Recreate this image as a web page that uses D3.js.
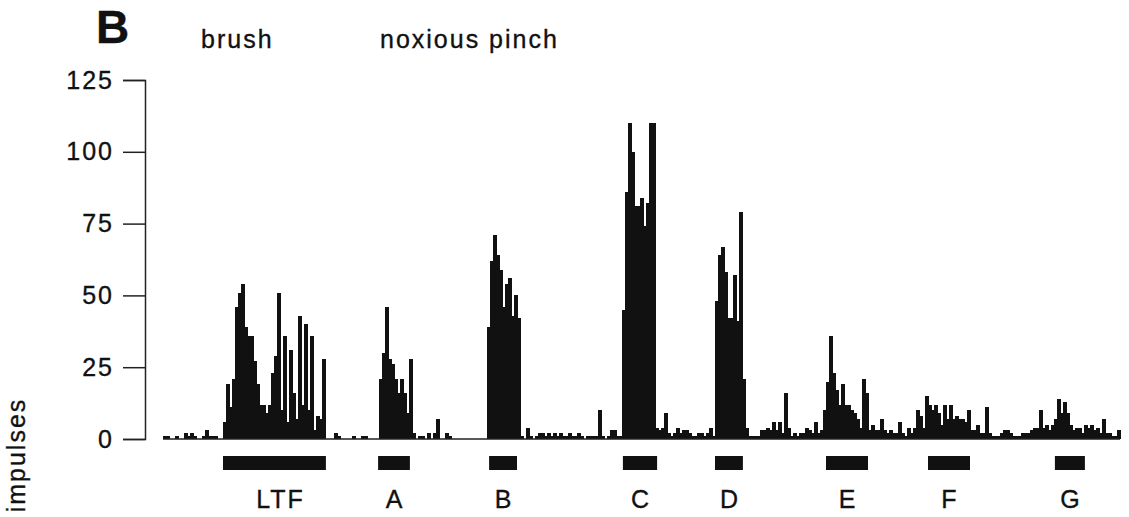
<!DOCTYPE html>
<html>
<head>
	<meta charset="utf-8">
	<title>Impulses histogram B</title>
	<script src="https://d3js.org/d3.v7.min.js"></script>
	<style>
		body { margin: 0; background: #fff; }
		text { font-family: "Liberation Sans", Arial, sans-serif; fill: #111; stroke: #111; stroke-width: 0.35px; }
	</style>
</head>
<body>
	<svg width="1129" height="517"></svg>
	<script>
		// impulses per bin (bin = 1 time unit)
		var counts = [
			1,1,0,0,1,0,0,2,1,2,1,0,0,1,3,1,1,1,0,0,
			// LTF brush
			6,19,11,21,46,51,54,39,36,36,27,19,12,12,9,12,23,29,51,10,36,6,31,16,7,43,12,40,10,36,3,8,7,28,
			0,0,0,2,1,0,0,0,0,1,0,0,1,1,0,0,0,0,
			// A
			21,30,46,28,26,21,16,21,16,9,28,2,0,1,1,0,2,0,2,7,0,0,2,1,
			0,0,0,0,0,0,0,0,0,0,0,0,
			// B
			39,62,71,64,59,46,54,56,43,50,42,1,
			0,4,1,0,1,2,2,1,2,1,2,1,2,1,1,2,1,1,2,1,0,1,1,1,1,10,1,0,1,3,3,1,1,
			// C
			45,86,110,100,81,81,84,74,82,110,110,4,3,4,9,2,1,2,4,2,3,3,2,1,1,2,2,1,2,4,1,
			// D
			48,64,67,58,42,42,57,41,79,21,
			4,1,1,1,1,3,3,4,3,6,
			3,6,2,16,4,1,2,1,2,2,
			// E
			4,3,2,6,2,3,10,20,36,23,
			17,12,19,12,12,10,9,7,4,21,
			16,3,5,3,3,7,3,2,3,2,
			2,6,2,1,4,2,4,10,8,
			// F
			4,15,12,10,12,9,5,12,7,12,
			7,8,7,7,6,10,3,3,5,2,
			2,11,2,1,1,1,2,3,3,2,
			1,1,1,2,2,2,3,4,4,10,
			// G
			4,5,3,5,7,14,9,13,9,5,
			3,4,4,2,5,4,5,3,4,2,
			7,2,2,1,1,3
		];

		var stimNames = ['LTF', 'A', 'B', 'C', 'D', 'E', 'F', 'G'];
		var stimStart = [20, 71.7, 108.7, 153.3, 184, 221, 255, 297.3];
		var stimEnd   = [54.3, 82.3, 118, 164.7, 193.3, 235, 269, 307.3];

		var yTicks = [0, 25, 50, 75, 100, 125];

		var svg = d3.select('svg');

		var x = d3.scaleLinear()
			.domain([0, counts.length])
			.range([163, 1120]);

		var y = d3.scaleLinear()
			.domain([0, 125])
			.range([439, 80]);

		// y axis
		var yAxis = svg.append('g')
			.attr('transform', 'translate(145,0)')
			.call(d3.axisLeft(y).tickValues(yTicks).tickSize(22).tickPadding(9));
		yAxis.selectAll('path, line').attr('stroke', '#222').attr('stroke-width', 1.5);
		yAxis.selectAll('text')
			.style('font-family', '"Liberation Sans", Arial, sans-serif')
			.style('font-size', '25px')
			.style('letter-spacing', '2px')
			.attr('fill', '#111');

		// histogram bars
		svg.append('g')
			.attr('shape-rendering', 'crispEdges')
			.selectAll('rect')
			.data(counts)
			.enter()
			.append('rect')
			.attr('x', function(d, i) { return x(i); })
			.attr('y', function(d) { return y(d); })
			.attr('width', function(d, i) { return x(i + 1) - x(i) + 0.8; })
			.attr('height', function(d) { return y(0) - y(d); })
			.attr('fill', '#111');

		// baseline
		svg.append('line')
			.attr('x1', x(0)).attr('x2', x(counts.length))
			.attr('y1', y(0)).attr('y2', y(0))
			.attr('stroke', '#222')
			.attr('stroke-width', 1.5);

		// stimulus markers
		svg.append('g')
			.selectAll('rect')
			.data(stimNames)
			.enter()
			.append('rect')
			.attr('x', function(d, i) { return x(stimStart[i]); })
			.attr('y', 456)
			.attr('width', function(d, i) { return x(stimEnd[i]) - x(stimStart[i]); })
			.attr('height', 14)
			.attr('fill', '#111');

		svg.append('g')
			.selectAll('text')
			.data(stimNames)
			.enter()
			.append('text')
			.attr('x', function(d, i) { return (x(stimStart[i]) + x(stimEnd[i])) / 2 + (d === 'LTF' ? 6 : 1); })
			.attr('y', 508)
			.attr('text-anchor', 'middle')
			.style('font-size', '25px')
			.style('letter-spacing', '2px')
			.text(function(d) { return d; });

		// panel letter and headings
		svg.append('text')
			.attr('x', 96).attr('y', 43)
			.style('font-size', '46px')
			.style('font-weight', 'bold')
			.text('B');

		svg.append('text')
			.attr('x', 201).attr('y', 48)
			.style('font-size', '25px')
			.style('letter-spacing', '2px')
			.text('brush');

		svg.append('text')
			.attr('x', 380).attr('y', 48)
			.style('font-size', '25px')
			.style('letter-spacing', '2px')
			.text('noxious pinch');

		svg.append('text')
			.attr('transform', 'translate(25,455) rotate(-90)')
			.attr('text-anchor', 'middle')
			.style('font-size', '25px')
			.style('letter-spacing', '2px')
			.text('impulses');
	</script>
</body>
</html>
